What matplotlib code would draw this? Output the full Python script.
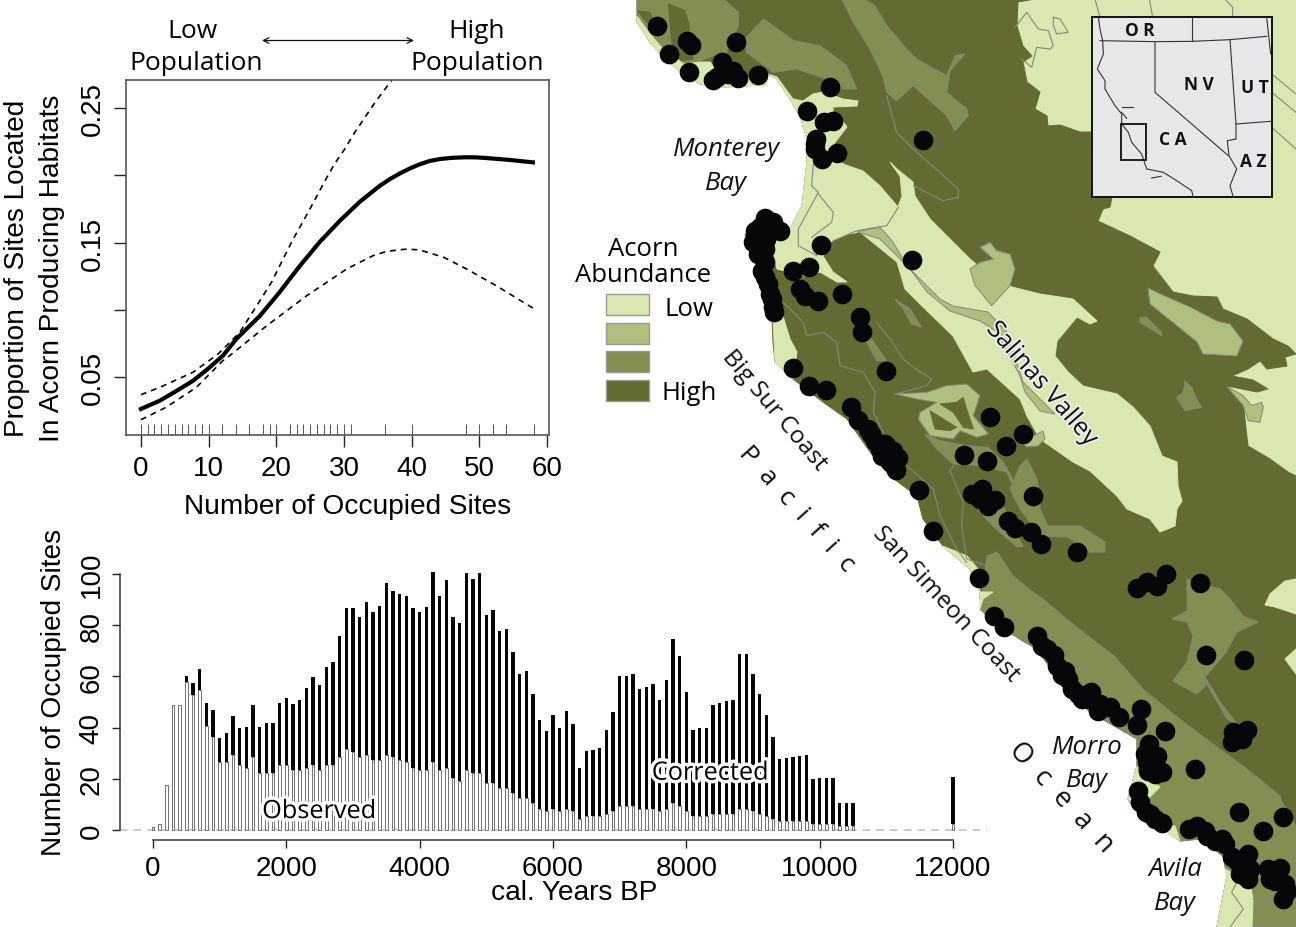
"""Acorn habitat fit, occupied sites through time, and the central coast site map."""

import matplotlib
matplotlib.use("Agg")
import matplotlib.pyplot as plt
import matplotlib.patheffects as pe
import numpy as np
from matplotlib.patches import Polygon, Rectangle

SANS = ["Liberation Sans", "DejaVu Sans"]
MYRIAD = ["Open Sans", "DejaVu Sans"]

LOW, MIDLOW, MID, HIGH = "#d9e7b1", "#aebf80", "#838e53", "#636b33"
EDGE = "#85887a"

# ---- fitted curve, top left panel
fit_x = [0, 2.8, 5.3, 7.7, 10, 12.1, 14.1, 17.6, 20.5, 23.5, 26.4, 29.4, 32.3, 35.3, 36.8, 38.3,
         39.8, 41.2, 42.7, 44.2, 46, 48.1, 49.6, 51.1, 54.5, 57.9]
fit_y = [.0262, .0324, .0398, .0472, .0565, .0658, .0783, .0956, .1132, .1328, .1504, .1663,
         .1802, .1923, .1973, .2016, .2053, .2083, .2108, .2122, .2131, .2135, .2134, .2129,
         .2115, .2097]
upper_x = [0, 2.8, 7.7, 11.4, 14.6, 17.1, 19.3, 21, 22.5, 24.7, 27.2, 28.6, 30.1, 31.6, 33.1,
           34.6, 37]
upper_y = [.0368, .0423, .0535, .0671, .0832, .103, .1205, .1378, .1527, .1725, .1961, .2085,
           .2196, .2321, .2432, .2544, .2705]
lower_x = [0, 3.7, 8.2, 12.1, 13.1, 18.6, 24.5, 30.4, 34.3, 36.3, 39.3, 41.2, 44.7, 48.1, 52.5,
           57.9]
lower_y = [.0182, .0274, .0423, .0621, .0658, .0882, .1105, .1304, .1403, .1435, .1452, .1445,
           .1391, .1304, .1179, .1013]
rug_x = [0, 1, 2, 3, 4, 5, 6, 7, 8, 9, 10, 12, 14, 16, 18, 19, 20, 22, 23, 24, 25, 26, 27, 28,
         29, 30, 31, 36, 40, 48, 50, 52, 54, 58]

# ---- occupied sites per century, bottom panel
years = list(range(0, 10600, 100)) + [12000]
corrected = [1, 2.3, 17.4, 49, 48.7, 60, 57.4, 63, 49.6, 47,
             36, 38, 44.4, 40, 40.3, 49, 40.3, 42, 42, 49.6,
             51.6, 49.3, 51, 55.4, 59.7, 56.8, 63.7, 65.8, 76, 86.8,
             86.7, 83.4, 89, 85, 87.5, 96.6, 93.3, 92.4, 91.4, 86.6,
             85, 87, 101, 91.5, 97.8, 83.4, 81, 100.4, 98, 100.4,
             84, 85.8, 77.8, 78.6, 69.6, 60.8, 62, 53, 43, 38.5,
             44.8, 40, 46.5, 41.5, 24.3, 30.8, 31.3, 32, 38.9, 46,
             60, 60, 61, 55.2, 56, 57, 50.7, 58.7, 74.5, 68,
             53.8, 39, 39.7, 40, 49, 49.7, 50.3, 51, 68.8, 68.8,
             61, 53, 45, 36.4, 27.8, 28.2, 28.6, 29, 29.2, 20,
             20.2, 20.4, 20.5, 10.6, 10.6, 10.7, 20.8]
observed = [1, 2.3, 17.4, 49, 48.7, 58, 52.6, 54.6, 40.5, 36.5,
            26.5, 26.5, 29.5, 25.5, 24.4, 28.5, 22.3, 22.3, 22.3, 25.5,
            25.5, 23.5, 23.5, 24.4, 25.5, 23.5, 25.5, 25.5, 28.5, 31.5,
            30.4, 28.5, 29.5, 27.4, 27.4, 29.5, 28.5, 27.4, 26.5, 24.4,
            23.5, 23.5, 26.5, 23.5, 24.4, 20.4, 19.3, 23.5, 22.3, 22.3,
            18.4, 18.4, 16.4, 16.4, 14.4, 12.4, 12.4, 10.4, 8.2, 7.3,
            8.2, 7.3, 8.2, 7.3, 4.3, 5.4, 5.4, 5.4, 6.3, 7.3,
            9.4, 9.4, 9.4, 8.2, 8.2, 8.2, 7.3, 8.2, 10.4, 9.4,
            7.3, 5.4, 5.4, 5.4, 6.3, 6.3, 6.3, 6.3, 8.2, 8.2,
            7.3, 6.3, 5.4, 4.3, 3.4, 3.4, 3.4, 3.4, 3.4, 2.3,
            2.3, 2.3, 2.3, 1.4, 1.4, 1.4, 2.3]

# ---- site locations on the map, picture pixels
site_x = [657, 669, 687, 691, 736, 722, 689, 713, 728, 738, 758, 830, 807, 824, 833, 816, 815,
          822, 837, 923, 765, 780, 773, 755, 753, 765, 765, 765, 770, 773, 821, 912, 793, 809,
          800, 805, 818, 842, 774, 860, 862, 886, 793, 809, 826, 851, 858, 871, 875, 888, 882,
          898, 890, 896, 919, 933, 979, 990, 1023, 1006, 964, 987, 1033, 972, 982, 980, 995,
          988, 1008, 1015, 1031, 1041, 1077, 1137, 1147, 1157, 1166, 1200, 994, 1004, 1037,
          1042, 1054, 1057, 1062, 1068, 1072, 1082, 1091, 1104, 1098, 1119, 1141, 1137, 1165,
          1149, 1157, 1147, 1162, 1148, 1138, 1146, 1162, 1206, 1244, 1195, 1247, 1233, 1232,
          1242, 1239, 1283, 1263, 1189, 1197, 1207, 1215, 1225, 1232, 1248, 1243, 1248, 1268,
          1280, 1275, 1287, 1283,
          758, 760, 770, 763, 758, 762, 768, 772, 766, 717, 733, 815, 880, 885, 868, 886, 893,
          1047, 1065, 1078, 1088, 1100, 1110, 1150, 1155, 1155, 1145, 1140, 1150, 1155, 1205,
          1222, 1237, 1245, 1250, 1240, 1285, 1270, 1240, 1152]
site_y = [27, 55, 42, 46, 43, 63, 73, 81, 75, 79, 76, 88, 112, 123, 122, 140, 150, 160, 154,
          141, 219, 232, 223, 232, 243, 250, 263, 278, 295, 308, 246, 261, 272, 268, 290, 297,
          302, 295, 313, 318, 333, 372, 369, 387, 391, 408, 421, 435, 442, 449, 457, 459, 463,
          471, 491, 532, 579, 418, 435, 447, 456, 462, 497, 495, 490, 500, 501, 507, 522, 529,
          533, 545, 553, 589, 583, 587, 575, 584, 617, 628, 637, 647, 656, 667, 676, 680, 690,
          700, 693, 708, 712, 718, 710, 726, 732, 745, 757, 763, 773, 772, 792, 813, 824, 656,
          661, 770, 731, 733, 743, 740, 813, 818, 832, 830, 827, 837, 842, 845, 858, 855, 867,
          880, 870, 869, 882, 892, 900,
          235, 228, 226, 245, 255, 272, 285, 300, 240, 78, 72, 145, 450, 445, 430, 456, 452,
          650, 672, 695, 700, 705, 708, 755, 765, 775, 755, 803, 815, 820, 832,
          840, 862, 860, 870, 875, 885, 880, 738, 765]


def crop(x0, y0, pts):
    """Points traced on a 3x crop of the map, back to picture pixels."""
    return [(x0 + x / 3, y0 + y / 3) for x, y in pts]


# ---- map outlines, picture pixels
coast = [(637, 0), (637, 23), (650, 43), (663, 58), (680, 72), (700, 85), (723, 88), (747, 87),
         (767, 75), (777, 80), (790, 100), (800, 117), (807, 140), (807, 163), (805, 180),
         (802, 207), (790, 230), (770, 240), (745, 235), (757, 267), (763, 300), (772, 320),
         (773, 343), (775, 363), (793, 380), (823, 403), (847, 420), (873, 457), (890, 477),
         (917, 497), (923, 520), (943, 547), (970, 570), (980, 593), (980, 600), (993, 623),
         (1023, 642), (1037, 650), (1060, 683), (1090, 713), (1137, 740), (1137, 767),
         (1128, 800), (1137, 813), (1180, 842), (1200, 840), (1223, 857), (1227, 877),
         (1217, 928)]
high_east = [(1035, 0), (1018, 3), (1017, 27), (1023, 47), (1032, 57), (1023, 63), (1027, 83),
             (1040, 93), (1035, 110), (1047, 117), (1048, 127), (1060, 126), (1080, 133),
             (1112, 133), (1112, 198), (1110, 208), (1103, 210), (1098, 222), (1130, 237),
             (1160, 253), (1153, 267), (1173, 293), (1193, 297), (1217, 298), (1223, 310),
             (1247, 320), (1273, 340), (1288, 347), (1296, 355), (1285, 358), (1287, 367),
             (1267, 370), (1260, 362), (1248, 370), (1232, 377), (1253, 381), (1268, 390),
             (1257, 393), (1227, 387), (1243, 403), (1248, 447), (1270, 460), (1288, 473),
             (1296, 477), (1296, 928)]
south_band = [(980, 610), (987, 557), (997, 553), (1013, 577), (1033, 593), (1043, 600),
              (1070, 623), (1115, 658), (1143, 690), (1173, 715), (1210, 743), (1247, 770),
              (1280, 797), (1282, 803), (1296, 827), (1296, 928), (1217, 928), (1227, 877),
              (1223, 857), (1200, 840), (1180, 842), (1137, 813), (1128, 800), (1137, 767),
              (1137, 740), (1090, 713), (1060, 683), (1037, 650), (1023, 642), (993, 623)]
salinas_low = [(767, 75), (777, 78), (793, 100), (803, 102), (813, 95), (823, 93), (843, 100),
               (858, 102), (857, 107), (833, 108), (833, 115), (843, 123), (847, 128),
               (840, 137), (830, 150), (843, 165), (863, 172), (880, 187), (898, 208),
               (902, 197), (900, 177), (890, 163), (897, 170), (913, 183), (915, 197),
               (930, 220), (950, 240), (970, 260), (1000, 285), (1040, 295), (1073, 300),
               (1097, 322), (1090, 325), (1077, 318), (1057, 342), (1055, 357), (1068, 373),
               (1083, 387), (1117, 395), (1133, 408), (1150, 427), (1162, 457), (1177, 463),
               (1178, 487), (1182, 502), (1177, 510), (1175, 527), (1160, 533), (1150, 520),
               (1127, 510), (1117, 497), (1090, 472), (1073, 463), (1040, 440), (1027, 417),
               (1020, 400), (987, 370), (973, 373), (953, 337), (920, 305), (905, 290),
               (897, 263), (860, 233), (848, 235), (830, 243), (823, 257), (833, 273),
               (847, 283), (837, 283), (820, 273), (805, 277), (777, 270), (770, 240),
               (790, 230), (802, 207), (805, 180), (807, 163), (807, 140), (800, 117),
               (790, 100), (777, 80)]
low_patches = [
    [(637, 17), (650, 35), (663, 50), (680, 62), (683, 65), (700, 63), (710, 63), (720, 75),
     (740, 80), (767, 75), (767, 87), (747, 87), (723, 88), (700, 85), (680, 72), (663, 58),
     (650, 43), (637, 23)],
    [(773, 320), (783, 317), (790, 340), (797, 353), (793, 380), (775, 363)],
    [(943, 547), (967, 557), (978, 570), (980, 593), (993, 593), (983, 600), (980, 610),
     (980, 593), (970, 570)],
    [(1138, 773), (1160, 788), (1148, 800), (1140, 812), (1128, 800), (1137, 767)],
    [(1167, 827), (1175, 827), (1180, 842), (1165, 833)],
    [(1225, 870), (1240, 878), (1250, 883), (1253, 900), (1252, 928), (1217, 928), (1227, 877)],
    [(1296, 580), (1285, 582), (1270, 595), (1265, 606), (1275, 608), (1296, 615)],
    [(1296, 650), (1285, 660), (1296, 675)],
]
mid_patches = [
    crop(630, 0, [(22, 0), (280, 0), (325, 40), (325, 80), (290, 160), (250, 170), (200, 190),
                  (160, 200), (100, 150), (60, 110), (22, 45)]),
    crop(630, 0, [(345, 120), (400, 60), (450, 95), (490, 125), (570, 140), (650, 200),
                  (680, 270), (640, 270), (590, 240), (500, 210), (430, 220), (350, 160)]),
    crop(630, 0, [(635, 0), (700, 0), (735, 20), (770, 80), (830, 150), (860, 180), (950, 230),
                  (975, 170), (1005, 165), (960, 215), (950, 280), (1010, 330), (1015, 350),
                  (975, 395), (950, 350), (850, 260), (800, 305), (770, 280), (760, 235),
                  (720, 150), (670, 70)]),
    crop(740, 300, [(380, 100), (440, 185), (410, 185), (380, 130)]),
    crop(740, 300, [(465, 0), (510, 30), (545, 85), (515, 75), (490, 30)]),
    crop(740, 300, [(555, 405), (600, 425), (680, 440), (745, 445), (790, 490), (835, 570),
                    (820, 560), (800, 520), (730, 500), (640, 495), (590, 450)]),
    [(1020, 467), (1027, 460), (1037, 480), (1040, 500), (1040, 510), (1048, 527), (1080, 527),
     (1105, 543), (1105, 553), (1090, 553), (1068, 538), (1040, 537), (1020, 510), (1010, 490)],
    [(1003, 507), (1023, 547), (1017, 548), (993, 527), (980, 513), (973, 500)],
    [(1187, 580), (1200, 585), (1220, 590), (1230, 600), (1243, 617), (1258, 623), (1237, 633),
     (1227, 652), (1205, 678), (1220, 703), (1237, 725), (1227, 720), (1207, 685), (1197, 695),
     (1173, 682), (1187, 663), (1193, 637), (1187, 623), (1172, 620), (1187, 612)],
    crop(1040, 300, [(300, 55), (320, 55), (365, 100), (365, 110), (300, 70)]),
    crop(1040, 300, [(435, 245), (455, 265), (470, 300), (485, 325), (435, 335), (410, 295),
                     (430, 280)]),
]
midlow_patches = [
    crop(740, 300, [(465, 285), (560, 280), (620, 260), (680, 255), (720, 290), (700, 350),
                    (745, 405), (710, 415), (660, 395), (640, 420), (570, 410), (535, 360),
                    (540, 340), (590, 310), (530, 300)]),
    [(857, 233), (880, 228), (893, 243), (907, 267), (920, 280), (940, 300), (953, 307),
     (988, 313), (1007, 333), (1023, 383), (1055, 415), (1040, 412), (1025, 393), (1020, 377),
     (997, 333), (980, 322), (950, 312), (927, 293), (910, 270), (880, 240)],
    crop(960, 0, [(30, 810), (60, 790), (100, 780), (60, 745), (90, 730), (110, 755), (150, 765),
                  (165, 810), (150, 860), (95, 920), (45, 860)]),
    [(1148, 289), (1165, 297), (1190, 308), (1217, 322), (1230, 325), (1243, 342), (1237, 357),
     (1203, 355), (1197, 343), (1150, 305)],
    crop(1040, 300, [(560, 262), (610, 290), (635, 320), (665, 310), (670, 325), (660, 370),
                     (625, 365), (610, 320)]),
    [(1023, 445), (1033, 437), (1043, 432), (1045, 440), (1038, 447), (1027, 448)],
]
high_patches = [
    crop(630, 0, [(115, 15), (165, 35), (178, 80), (175, 140), (190, 180), (150, 185),
                  (125, 130)]),
    crop(630, 0, [(22, 35), (60, 40), (70, 65), (50, 70)]),
    crop(740, 300, [(570, 335), (650, 385), (630, 395), (585, 390)]),
    crop(740, 300, [(600, 315), (650, 310), (670, 295), (680, 330), (700, 390), (670, 385),
                    (640, 340)]),
]
streams = [
    crop(740, 300, [(130, 10), (190, 70), (200, 110), (250, 100), (290, 130), (300, 200),
                    (370, 220), (405, 280), (400, 340), (430, 400)]),
    crop(740, 300, [(410, 70), (450, 120), (490, 180), (520, 205), (575, 240), (560, 260),
                    (465, 285)]),
    crop(740, 300, [(640, 500), (630, 515), (670, 610), (665, 680), (680, 780), (740, 800)]),
    crop(740, 300, [(500, 500), (580, 570), (600, 650), (650, 750), (680, 790)]),
    crop(630, 0, [(770, 290), (800, 400), (850, 450), (940, 530), (985, 570), (985, 595),
                  (940, 605), (850, 560)]),
    crop(630, 0, [(545, 560), (565, 580), (505, 690), (505, 740), (560, 770), (560, 740)]),
    crop(630, 0, [(565, 585), (610, 640), (605, 670), (545, 715)]),
    crop(630, 0, [(550, 495), (545, 560)]),
    crop(630, 0, [(805, 625), (770, 680), (680, 695), (610, 725)]),
    crop(960, 0, [(165, 85), (200, 40), (235, 90), (265, 95), (280, 140), (270, 150), (230, 145),
                  (215, 205), (185, 180)]),
    crop(960, 0, [(280, 55), (300, 60), (325, 100), (290, 105), (280, 80), (280, 55)]),
    crop(960, 600, [(880, 900), (920, 925), (1008, 900)]),
    crop(960, 600, [(830, 850), (815, 880), (850, 930), (810, 984)]),
    crop(1080, 0, [(45, 0), (60, 55)]),
    crop(1080, 0, [(208, 0), (218, 55)]),
    crop(1080, 0, [(435, 0), (458, 25), (458, 55)]),
    crop(1080, 0, [(575, 225), (648, 285)]),
    crop(1080, 0, [(575, 280), (648, 340)]),
    crop(1080, 0, [(575, 385), (648, 450)]),
]
inset_lines = [
    [(55, 55), (60, 90), (68, 125), (70, 165), (52, 210), (75, 245), (75, 270), (105, 320),
     (125, 345), (125, 375), (145, 400), (155, 430), (185, 465), (200, 510), (250, 520),
     (290, 545), (335, 575), (340, 595)],
    [(60, 125), (225, 128), (337, 127), (450, 122), (560, 112)],
    [(225, 128), (225, 280), (445, 470)],
    [(337, 55), (337, 127)],
    [(450, 122), (468, 375), (468, 420), (442, 425), (447, 470), (470, 510), (450, 560),
     (460, 595)],
    [(468, 375), (572, 367)],
    [(560, 55), (572, 165)],
    [(125, 325), (160, 325)],
    [(125, 340), (140, 358)],
    [(215, 537), (243, 532)],
]

# ---- labels on the map: text, x, y, rotation, size
coast_labels = [("Big Sur Coast", 774, 411, -50, 17.5), ("San Simeon Coast", 946, 604, -47, 17.5),
                ("P  a  c  i  f  i  c", 796, 509, -48, 19), ("O  c  e  a  n", 1061, 798, -47, 20)]
bay_labels = [("Monterey", 726, 150), ("Bay", 726, 183), ("Morro", 1087, 748), ("Bay", 1087, 781),
              ("Avila", 1175, 870), ("Bay", 1175, 904)]
state_labels = [("O R", 1140, 31), ("N V", 1199, 85), ("U T", 1255, 88), ("C A", 1173, 140),
                ("A Z", 1253, 162)]
legend_colors = [LOW, MIDLOW, MID, HIGH]
legend_tops = [295, 324, 352, 381]

W, H = 1296, 928
fig = plt.figure(figsize=(W / 100, H / 100), dpi=100)


def axes_px(left, top, right, bottom):
    return fig.add_axes([left / W, 1 - bottom / H, (right - left) / W, (bottom - top) / H])


# ---- map and all free text sit on one full page axes
page = fig.add_axes([0, 0, 1, 1])
page.set_xlim(0, W)
page.set_ylim(H, 0)
page.axis("off")


def patch(pts, color, zorder, edge=None):
    page.add_patch(Polygon(pts, closed=True, facecolor=color, edgecolor=edge or color,
                           linewidth=0.7, zorder=zorder))


patch(coast + [(1296, 928), (1296, 0)], LOW, 1)
patch([(637, 0)] + high_east + coast[::-1][:-1], HIGH, 2)
for pts in mid_patches + [south_band]:
    patch(pts, MID, 3, EDGE)
for pts in high_patches:
    patch(pts, HIGH, 3.5)
patch(salinas_low, LOW, 4)
for pts in low_patches:
    patch(pts, LOW, 4)
for pts in midlow_patches:
    patch(pts, MIDLOW, 5, EDGE)
for pts in high_patches[2:]:
    patch(pts, HIGH, 5.5)
for pts in streams:
    xs, ys = zip(*pts)
    page.plot(xs, ys, color=EDGE, lw=0.8, zorder=6)

# inset locator
page.add_patch(Rectangle((1092, 18), 180, 180, facecolor="#e6e7e8", edgecolor="#111111", lw=1.4,
                         zorder=7))
for line in inset_lines:
    xs, ys = zip(*crop(1080, 0, line))
    page.plot(xs, ys, color="#333333", lw=0.8, zorder=8)
page.add_patch(Rectangle((1120.7, 125.3), 25.7, 36, facecolor="none", edgecolor="#111111", lw=1.3,
                         zorder=8))
for label, x, y in state_labels:
    page.text(x, y, label, ha="center", va="center", fontsize=12.5, fontweight="bold",
              family=MYRIAD, color="#111111", zorder=9)

page.scatter(site_x, site_y, s=200, color="#050608", linewidths=0, zorder=10)

for label, x, y, rot, size in coast_labels:
    page.text(x, y, label, ha="center", va="center", rotation=rot, rotation_mode="anchor",
              fontsize=size, family=MYRIAD, color="#111111", zorder=11)
for label, x, y in bay_labels:
    page.text(x, y, label, ha="center", va="center", fontsize=18.5, style="italic", family=MYRIAD,
              color="#111111", zorder=11)
page.text(1042, 385, "Salinas Valley", ha="center", va="center", rotation=-49,
          rotation_mode="anchor", fontsize=18, family=MYRIAD, color="#111111", zorder=11,
          path_effects=[pe.withStroke(linewidth=2.5, foreground="#eef0f0")])

# legend
page.text(643, 249, "Acorn", ha="center", va="center", fontsize=18.5, family=MYRIAD)
page.text(643, 276, "Abundance", ha="center", va="center", fontsize=18.5, family=MYRIAD)
for color, top in zip(legend_colors, legend_tops):
    page.add_patch(Rectangle((606, top), 43, 21, facecolor=color, edgecolor="#9a9a90", lw=1))
page.text(689, 310, "Low", ha="center", va="center", fontsize=18.5, family=MYRIAD)
page.text(689, 394, "High", ha="center", va="center", fontsize=18.5, family=MYRIAD)

# header over the fit
page.text(193, 31, "Low", ha="center", va="center", fontsize=19, family=MYRIAD)
page.text(196, 64, "Population", ha="center", va="center", fontsize=19, family=MYRIAD)
page.text(477, 31, "High", ha="center", va="center", fontsize=19, family=MYRIAD)
page.text(477, 64, "Population", ha="center", va="center", fontsize=19, family=MYRIAD)
page.annotate("", xy=(262, 41.5), xytext=(414, 41.5),
              arrowprops=dict(arrowstyle="<->", lw=0.9, color="#111111", shrinkA=0, shrinkB=0))

# free axis titles
page.text(17, 268, "Proportion of Sites Located", rotation=90, ha="center", va="center",
          fontsize=20.2, family=SANS)
page.text(52, 268, "In Acorn Producing Habitats", rotation=90, ha="center", va="center",
          fontsize=20.2, family=SANS)
page.text(348, 507, "Number of Occupied Sites", ha="center", va="center", fontsize=20.2,
          family=SANS)
page.text(54, 692, "Number of Occupied Sites", rotation=90, ha="center", va="center",
          fontsize=20.2, family=SANS)
page.text(574, 893, "cal. Years BP", ha="center", va="center", fontsize=20.2, family=SANS)

# ---- fit panel
ax = axes_px(126, 81, 549, 436)
ax.patch.set_alpha(0)
ax.plot(fit_x, fit_y, color="black", lw=3)
ax.plot(upper_x, upper_y, color="black", lw=1.2, ls=(0, (3.5, 3)))
ax.plot(lower_x, lower_y, color="black", lw=1.2, ls=(0, (3.5, 3)))
ax.vlines(rug_x, 0, 0.03, transform=ax.get_xaxis_transform(), color="#555555", lw=0.7)
ax.set_xlim(-2.2, 60.28)
ax.set_ylim(0.05 - 58 / 1344, 0.05 + 297 / 1344)
ax.set_xticks(range(0, 61, 10))
ax.set_yticks([0.05, 0.10, 0.15, 0.20, 0.25])
ax.set_yticklabels(["0.05", "", "0.15", "", "0.25"], rotation=90, va="center")
ax.tick_params(length=8.5, width=1, labelsize=20, color="#222222", pad=6)
for lab in ax.get_xticklabels() + ax.get_yticklabels():
    lab.set_family(SANS)
for sp in ax.spines.values():
    sp.set_color("#555555")
    sp.set_linewidth(1.2)

# ---- occupation bars
bx = axes_px(120, 560, 987, 841)
bx.patch.set_alpha(0)
years_arr = np.array(years)
corrected_arr = np.array(corrected)
observed_arr = np.array(observed)
bx.axhline(0, color="#bdbdbd", lw=1.1, ls=(0, (5, 4)), zorder=1)
bx.bar(years_arr, corrected_arr - observed_arr, bottom=observed_arr, width=50, color="#050505",
       linewidth=0, zorder=2)
bx.bar(years_arr, observed_arr, width=44, facecolor="white", edgecolor="#707070", linewidth=0.7,
       zorder=2)
bx.set_xlim(-495, 12510)
bx.set_ylim(-3.9, 105.9)
bx.set_xticks(range(0, 12001, 2000))
bx.set_yticks(range(0, 101, 20))
bx.set_yticklabels([str(v) for v in range(0, 101, 20)], rotation=90, va="center")
bx.tick_params(length=6, width=1, labelsize=20, color="#222222", pad=5)
for lab in bx.get_xticklabels() + bx.get_yticklabels():
    lab.set_family(SANS)
bx.spines["top"].set_visible(False)
bx.spines["right"].set_visible(False)
bx.spines["bottom"].set_bounds(0, 12000)
bx.spines["left"].set_bounds(0, 100)
for name in ("bottom", "left"):
    bx.spines[name].set_color("#333333")
    bx.spines[name].set_linewidth(1.1)
halo = [pe.withStroke(linewidth=5, foreground="white")]
bx.text(2490, 7.2, "Observed", ha="center", va="center", fontsize=18.2, family=MYRIAD, zorder=5,
        path_effects=halo)
bx.text(8355, 22.2, "Corrected", ha="center", va="center", fontsize=18.2, family=MYRIAD, zorder=5,
        path_effects=halo)

fig.savefig("out.png", dpi=100)
plt.close(fig)
